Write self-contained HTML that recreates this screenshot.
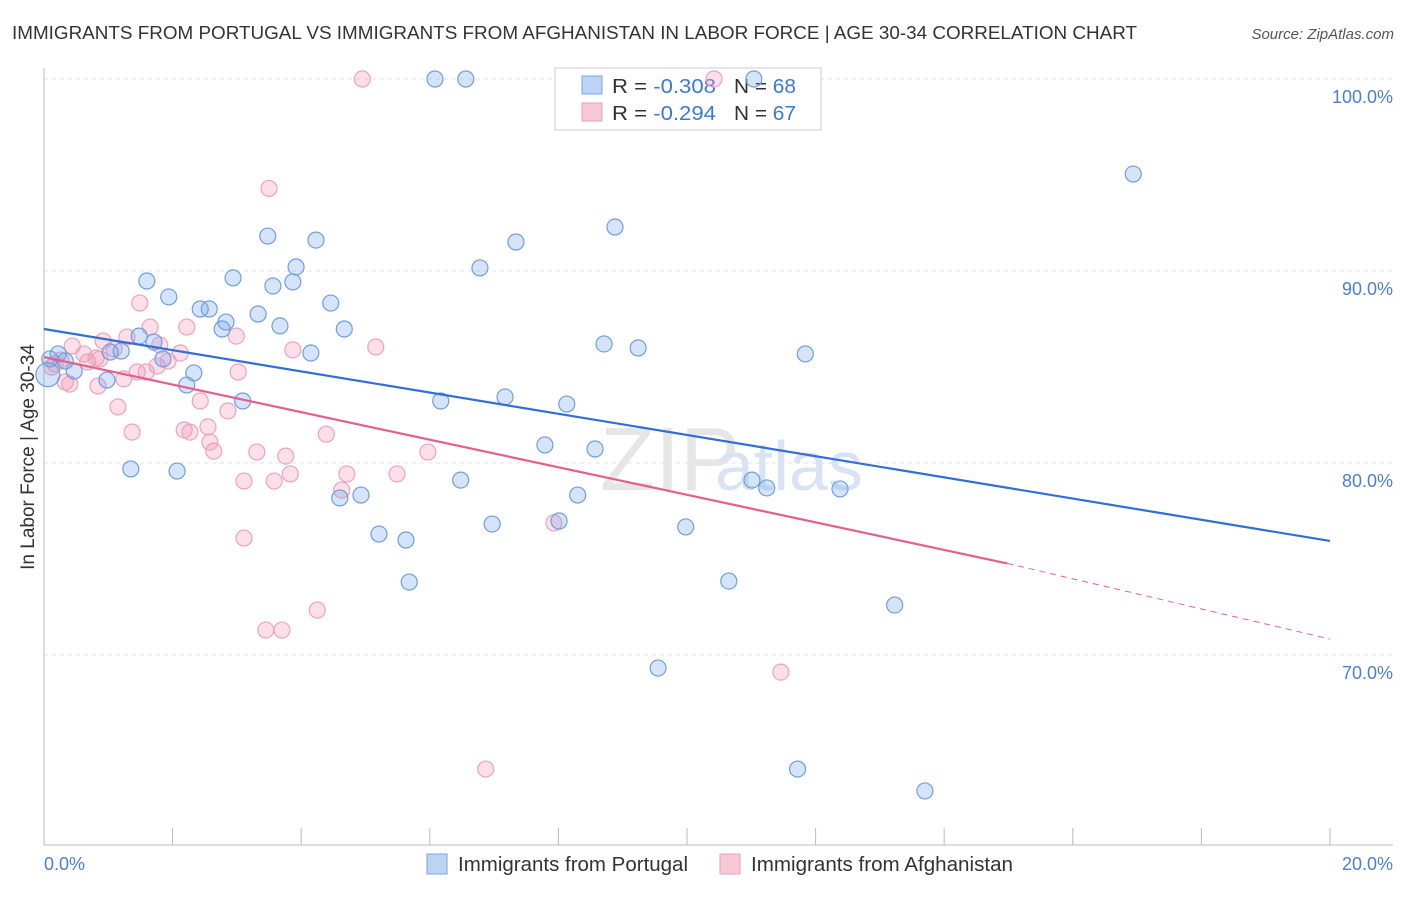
<!DOCTYPE html>
<html><head><meta charset="utf-8">
<style>
body{margin:0;background:#fff;font-family:"Liberation Sans",sans-serif;}
svg text{font-family:"Liberation Sans",sans-serif;}
</style></head><body>
<svg width="1406" height="892" xmlns="http://www.w3.org/2000/svg">
<text x="12" y="39" font-size="18.5" fill="#333" textLength="1125" lengthAdjust="spacingAndGlyphs">IMMIGRANTS FROM PORTUGAL VS IMMIGRANTS FROM AFGHANISTAN IN LABOR FORCE | AGE 30-34 CORRELATION CHART</text>
<text x="1394" y="39" font-size="15" fill="#555" font-style="italic" text-anchor="end">Source: ZipAtlas.com</text>
<g id="grid"></g>
<line x1="44" y1="68" x2="44" y2="845" stroke="#bbb"/>
<line x1="44" y1="845" x2="1393" y2="845" stroke="#bbb"/>
<g id="ticks"></g>
<text x="600" y="490" font-size="90" fill="#e6e6e6" font-family="Liberation Serif">ZIP</text>
<text x="715" y="490" font-size="70" fill="#d8e4f4">atlas</text>
<g>
<rect x="555" y="68" width="266" height="62" fill="#fff" stroke="#ccc"/>
<rect x="582" y="76" width="20" height="18" fill="#bcd3f4" stroke="#7aa4e4"/>
<rect x="582" y="103" width="20" height="18" fill="#f8c8d6" stroke="#e9a0b8"/>
<text x="612" y="93" font-size="20" fill="#333" textLength="104" lengthAdjust="spacingAndGlyphs">R = <tspan fill="#3b78d8">-0.308</tspan></text>
<text x="734" y="93" font-size="20" fill="#333" textLength="62" lengthAdjust="spacingAndGlyphs">N = <tspan fill="#3b78d8">68</tspan></text>
<text x="612" y="120" font-size="20" fill="#333" textLength="104" lengthAdjust="spacingAndGlyphs">R = <tspan fill="#3b78d8">-0.294</tspan></text>
<text x="734" y="120" font-size="20" fill="#333" textLength="62" lengthAdjust="spacingAndGlyphs">N = <tspan fill="#3b78d8">67</tspan></text>
</g>
<g id="pts"></g>
<g id="lines"></g>
<text x="34" y="457" font-size="19" fill="#333" transform="rotate(-90 34 457)" text-anchor="middle">In Labor Force | Age 30-34</text>
<text x="44" y="870" font-size="18" fill="#4a7fd4">0.0%</text>
<text x="1393" y="870" font-size="18" fill="#4a7fd4" text-anchor="end">20.0%</text>
<g>
<rect x="427" y="854" width="20" height="20" fill="#bcd3f4" stroke="#7aa4e4"/>
<text x="458" y="871" font-size="20" fill="#333" textLength="230" lengthAdjust="spacingAndGlyphs">Immigrants from Portugal</text>
<rect x="720" y="854" width="20" height="20" fill="#f8c8d6" stroke="#e9a0b8"/>
<text x="751" y="871" font-size="20" fill="#333" textLength="262" lengthAdjust="spacingAndGlyphs">Immigrants from Afghanistan</text>
</g>
</svg>
<script>
const yTicks=[100,90,80,70];
const xTickVals=[0,2,4,6,8,10,12,14,16,18,20];
const blueX=[6.08,6.56,11.04,16.94,8.88,3.48,4.23,7.34,6.78,3.92,1.6,2.94,3.56,3.87,1.94,4.46,2.43,2.57,3.33,2.83,3.67,4.67,2.77,1.48,1.71,8.71,9.24,4.15,1.2,11.84,0.22,0.09,1.03,1.85,0.33,0.47,2.33,0.98,2.22,6.17,7.17,3.09,8.13,7.79,8.57,1.35,2.07,6.48,11.01,11.24,12.38,4.93,4.6,8.3,8.01,6.97,9.98,5.21,5.63,10.65,5.68,13.23,9.55,11.72,13.7,0.06];
const blueY=[100,100,100,95.05,92.29,91.82,91.61,91.51,90.16,90.21,89.48,89.64,89.22,89.43,88.65,88.33,88.02,88.02,87.76,87.34,87.14,86.98,86.98,86.61,86.3,86.2,85.99,85.73,85.83,85.68,85.68,85.42,85.78,85.42,85.31,84.79,84.69,84.32,84.06,83.23,83.44,83.23,83.07,80.94,80.73,79.69,79.58,79.11,79.11,78.7,78.65,78.33,78.18,78.33,76.98,76.82,76.67,76.3,75.99,73.85,73.8,72.6,69.32,64.06,62.92,84.6];
const pinkX=[4.95,10.42,3.5,1.49,1.65,2.22,2.99,0.92,1.29,1.09,1.8,2.12,3.87,5.16,0.44,0.62,0.81,0.26,0.12,0.68,1.45,1.59,1.24,1.76,1.93,3.02,0.33,0.84,0.4,1.15,2.43,2.86,1.37,2.18,2.27,2.55,2.58,2.64,3.31,3.76,4.39,5.97,3.11,3.58,3.83,4.71,5.49,4.63,7.93,3.11,4.25,3.45,3.7,11.46,6.87,0.17,0.87];
const pinkY=[100,100,94.3,88.33,87.08,87.08,86.61,86.35,86.56,85.94,86.15,85.73,85.89,86.04,86.09,85.68,85.47,85.36,84.99,85.26,84.74,84.74,84.38,85.05,85.31,84.74,84.22,84.01,84.11,82.92,83.23,82.71,81.61,81.72,81.61,81.88,81.09,80.62,80.57,80.36,81.5,80.57,79.06,79.06,79.43,79.43,79.43,78.59,76.88,76.09,72.34,71.3,71.3,69.11,64.06,85.16,85.42];
const blueFit=[0,86.98,20,75.94];
const pinkFit=[0,85.52,14.98,74.77,20,70.83];
const X=v=>44+v/20*1286, Y=v=>79+(100-v)*19.2;
const NS="http://www.w3.org/2000/svg";
function mk(tag,attrs,parent){const e=document.createElementNS(NS,tag);for(const k in attrs)e.setAttribute(k,attrs[k]);parent.appendChild(e);return e;}
const grid=document.getElementById('grid');
yTicks.forEach(t=>{
 const l=mk('line',{x1:44,x2:1393,y1:Y(t),y2:Y(t),stroke:'#e2e2e2','stroke-dasharray':'4 4'},grid);
 
 
 const tx=mk('text',{x:1393,y:Y(t)+24,'font-size':18,fill:'#4a7fd4','text-anchor':'end'},grid);
 tx.textContent=t.toFixed(1)+'%';
 
 
});
const ticks=document.getElementById('ticks');
xTickVals.forEach(t=>{
 const l=mk('line',{x1:X(t),x2:X(t),y1:828,y2:845,stroke:'#bbb'},ticks);
 
 
});
const pts=document.getElementById('pts');
pinkX.forEach((x,i)=>{
 const c=mk('circle',{cx:X(x),cy:Y(pinkY[i]),r:8,fill:'rgba(244,150,180,0.3)',stroke:'#eba3bb','stroke-width':1.2},pts);
 
 
});
blueX.forEach((x,i)=>{
 const c=mk('circle',{cx:X(x),cy:Y(blueY[i]),r:i==blueX.length-1?12:8,fill:'rgba(120,165,235,0.3)',stroke:'#6e9ee0','stroke-width':1.2},pts);
 
 
});
const lines=document.getElementById('lines');
let b=mk('line',{x1:X(blueFit[0]),y1:Y(blueFit[1]),x2:X(blueFit[2]),y2:Y(blueFit[3]),stroke:'#2f6fd6','stroke-width':2.2},lines);


let p=mk('line',{x1:X(pinkFit[0]),y1:Y(pinkFit[1]),x2:X(pinkFit[2]),y2:Y(pinkFit[3]),stroke:'#e4608c','stroke-width':2.2},lines);


let pd=mk('line',{x1:X(pinkFit[2]),y1:Y(pinkFit[3]),x2:X(pinkFit[4]),y2:Y(pinkFit[5]),stroke:'#e4608c','stroke-width':1,'stroke-dasharray':'6 5'},lines);


</script>
</body></html>
